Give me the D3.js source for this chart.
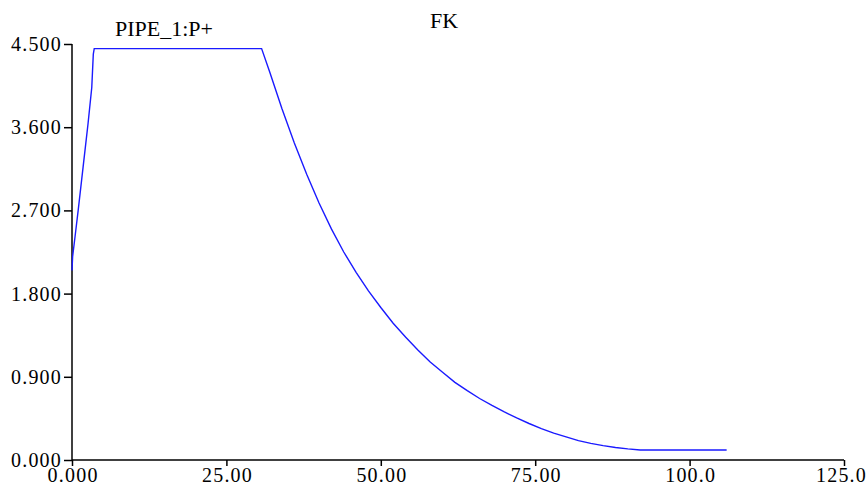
<!DOCTYPE html>
<html>
<head>
<meta charset="utf-8">
<script src="https://cdn.jsdelivr.net/npm/d3@7/dist/d3.min.js"></script>
<style>
  body { margin: 0; background: #fff; }
  svg text { font-family: "Liberation Serif", "DejaVu Serif", Tinos, serif; fill: #000; }
</style>
</head>
<body>
<div id="chart"></div>
<script>
// values
const timeValues = [0, 0.1, 0.5, 1.0, 1.8, 2.6, 3.2, 3.45, 3.6,
  30.7, 32, 34, 36, 38, 40, 42, 44, 46, 48, 50, 52, 54, 56, 58, 60,
  62, 64, 66, 68, 70, 72, 74, 76, 78, 80, 82, 84, 86, 88, 90, 92, 106.0]
const pressureValues = [2.05, 2.2, 2.42, 2.70, 3.17, 3.64, 4.03, 4.39, 4.45,
  4.45, 4.20, 3.80, 3.43, 3.09, 2.78, 2.50, 2.25, 2.03, 1.83, 1.65, 1.48, 1.33, 1.19, 1.06, 0.95,
  0.84, 0.75, 0.665, 0.59, 0.52, 0.455, 0.395, 0.34, 0.29, 0.25, 0.21, 0.18, 0.155, 0.135, 0.12, 0.108, 0.108]
const xTicks = [0, 25, 50, 75, 100, 125]
const xTickLabels = ['0.000', '25.00', '50.00', '75.00', '100.0', '125.0']
const yTicks = [0, 0.9, 1.8, 2.7, 3.6, 4.5]
const yTickLabels = ['0.000', '0.900', '1.800', '2.700', '3.600', '4.500']

const width = 866
const height = 488
const margin = { top: 44, left: 72, right: 22, bottom: 28 }

const svg = d3
  .select('#chart')
  .append('svg')
  .attr('width', width)
  .attr('height', height)

const x = d3.scaleLinear().domain([0, 125]).range([margin.left, width - margin.right])
const y = d3.scaleLinear().domain([0, 4.5]).range([height - margin.bottom, margin.top])

const xAxis = d3.axisBottom(x)
  .tickValues(xTicks)
  .tickSize(6)
  .tickPadding(2)
  .tickFormat((d, i) => xTickLabels[i])

const yAxis = d3.axisLeft(y)
  .tickValues(yTicks)
  .tickSize(8)
  .tickPadding(2)
  .tickFormat((d, i) => yTickLabels[i])

const gx = svg.append('g')
  .attr('transform', 'translate(0,' + y(0) + ')')
  .call(xAxis)
gx.select('.domain').attr('d', 'M' + x(0) + ',0H' + x(125)).attr('stroke-width', 1.5)

const gy = svg.append('g')
  .attr('transform', 'translate(' + x(0) + ',0)')
  .call(yAxis)
gy.select('.domain').attr('d', 'M0,' + y(4.5) + 'V' + y(0)).attr('stroke-width', 1.5)

svg.selectAll('.tick line').attr('stroke', '#000').attr('stroke-width', 1.5)
svg.selectAll('.tick text')
  .style('font-size', '20px')
  .style('letter-spacing', '1.2px')
gx.selectAll('.tick text').attr('dx', '0.6px').attr('dy', '0.72em')
// last x label would run past the right edge
gx.selectAll('.tick text').filter(d => d === 125).attr('dx', '-3px')

const points = timeValues.map((t, i) => [t, pressureValues[i]])

const line = d3.line()
  .x(d => x(d[0]))
  .y(d => y(d[1]))

svg.append('path')
  .datum(points)
  .attr('fill', 'none')
  .attr('stroke', '#1a1aff')
  .attr('stroke-width', 1.4)
  .attr('d', line)

svg.append('text')
  .attr('x', 444)
  .attr('y', 28)
  .attr('text-anchor', 'middle')
  .style('font-size', '22px')
  .text('FK')

svg.append('text')
  .attr('x', 115)
  .attr('y', 36)
  .style('font-size', '22px')
  .text('PIPE_1:P+')
</script>
</body>
</html>
